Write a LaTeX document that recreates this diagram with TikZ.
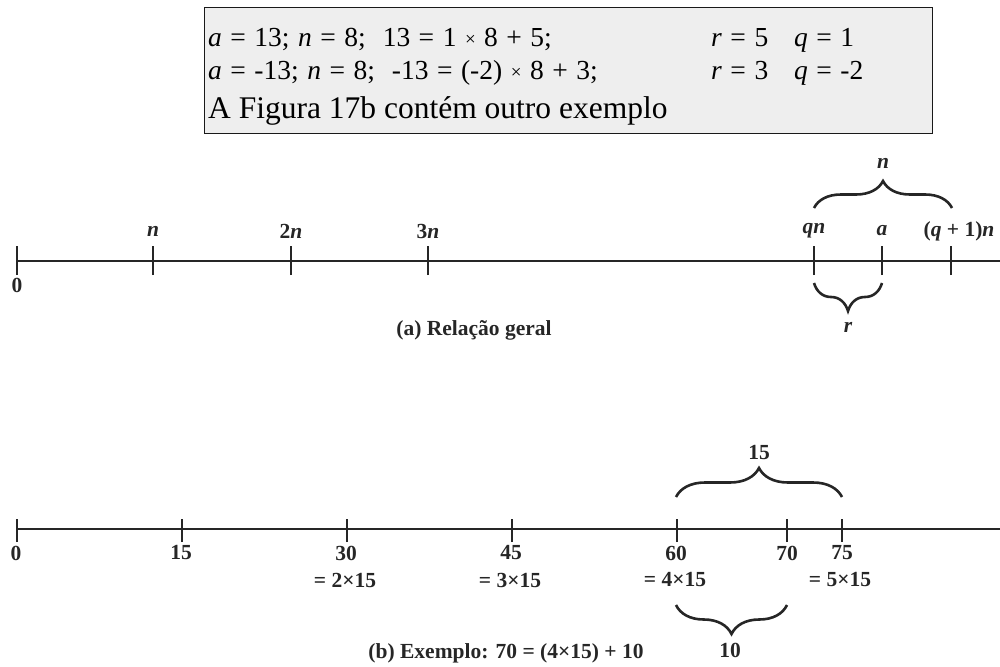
\documentclass[tikz,border=0pt]{standalone}
\usepackage{fontspec}
\setmainfont{Liberation Serif}
\usetikzlibrary{decorations.pathreplacing}
\newcommand{\boxfont}{\fontsize{27.5}{33}\selectfont\spaceskip=8.5pt\relax}
\tikzset{
  axis/.style={line width=2.4pt, draw=black!85},
  tick/.style={line width=1.3pt, draw=black!85},
  brc/.style={line width=2.6pt, draw=black!85, decorate, decoration={brace, amplitude=#1}},
  lbl/.style={font=\fontsize{21.5}{25}\selectfont\bfseries, inner sep=0pt, text=black!85},
  boxtxt/.style={font=\boxfont, inner sep=0pt, anchor=base west},
  boxbig/.style={font=\fontsize{31.5}{36}\selectfont, inner sep=0pt, anchor=base west},
  infobox/.style={draw=black!90, line width=1.2pt, fill=gray!13}
}
\newcommand{\smx}{{\fontsize{19}{19}\selectfont\raisebox{1pt}{×}}}
\begin{document}
\begin{tikzpicture}[x=1pt,y=-1pt]
\useasboundingbox (0,0) rectangle (1000,666);
% info box
\node[infobox, minimum width=728pt, minimum height=126pt, anchor=north west, inner sep=0pt] (box) at (204,7) {};
\node[boxtxt] (l1) at (208,47) {\textit{a} = 13; \textit{n} = 8;\ \ 13 = 1 \smx{} 8 + 5;};
\node[boxtxt] (l1r) at (711,47) {\textit{r} = 5};
\node[boxtxt] (l1q) at (794,47) {\textit{q} = 1};
\node[boxtxt] (l2) at (208,80) {\textit{a} = -13; \textit{n} = 8;\ \ -13 = (-2) \smx{} 8 + 3;};
\node[boxtxt] (l2r) at (711,80) {\textit{r} = 3};
\node[boxtxt] (l2q) at (794,80) {\textit{q} = -2};
\node[boxbig] (l3) at (208,118) {A Figura 17b contém outro exemplo};

% ---------- (a) ----------
\coordinate (a0) at (17,261);
\coordinate (aend) at (1000,261);
\draw[axis] (a0) -- (aend);
\foreach \nm/\x in {t0/17, t1/153, t2/291, t3/428, tq/814, ta/882, tq1/951}{
  \coordinate (\nm) at (\x,261);
  \draw[tick] ([yshift=-14pt]\nm) -- ([yshift=15pt]\nm);
}
\node[lbl] (l0) at (17,285) {0};
\node[lbl] (ln) at (153,231) {\textit{n}};
\node[lbl] (l2n) at (291,231) {2\textit{n}};
\node[lbl] (l3n) at (428,231) {3\textit{n}};
\node[lbl] (lqn) at (814,231) {\textit{qn}};
\node[lbl] (la) at (882,231) {\textit{a}};
\node[lbl] (lq1n) at (959,231) {(\textit{q} + 1)\textit{n}};
\coordinate (bnL) at (814,208);
\coordinate (bnR) at (952,208);
\draw[brc=27pt] (bnL) -- (bnR);
\node[lbl] (nb) at (883,163) {\textit{n}};
\coordinate (brL) at (814,283);
\coordinate (brR) at (882,283);
\draw[brc=28pt] (brR) -- (brL);
\node[lbl] (rb) at (848,327) {\textit{r}};
\node[lbl] (capa) at (474,330) {(a) Relação geral};

% ---------- (b) ----------
\coordinate (b0) at (17,529);
\coordinate (bend) at (1000,529);
\draw[axis] (b0) -- (bend);
\foreach \nm/\x in {u0/17, u15/182, u30/347, u45/512, u60/677, u70/787, u75/842}{
  \coordinate (\nm) at (\x,529);
  \draw[tick] ([yshift=-13pt]\nm) -- ([yshift=10pt]\nm);
}
\node[lbl] (m0) at (16,553) {0};
\node[lbl] (m15) at (181,553) {15};
\node[lbl] (m30) at (346,553) {30};
\node[lbl] (m45) at (511,553) {45};
\node[lbl] (m60) at (676,553) {60};
\node[lbl] (m70) at (787,553) {70};
\node[lbl] (m75) at (842,553) {75};
\node[lbl] (e30) at (345,580) {= 2×15};
\node[lbl] (e45) at (510,580) {= 3×15};
\node[lbl] (e60) at (675,580) {= 4×15};
\node[lbl] (e75) at (840,580) {= 5×15};
\coordinate (b15L) at (676,497);
\coordinate (b15R) at (842,497);
\draw[brc=29pt] (b15L) -- (b15R);
\node[lbl] (t15) at (759,453) {15};
\coordinate (b10L) at (676,605);
\coordinate (b10R) at (787,605);
\draw[brc=29pt] (b10R) -- (b10L);
\node[lbl] (t10) at (730,650) {10};
\node[lbl] (capb) at (506,653) {(b) Exemplo: 70 = (4×15) + 10};
\end{tikzpicture}
\end{document}
